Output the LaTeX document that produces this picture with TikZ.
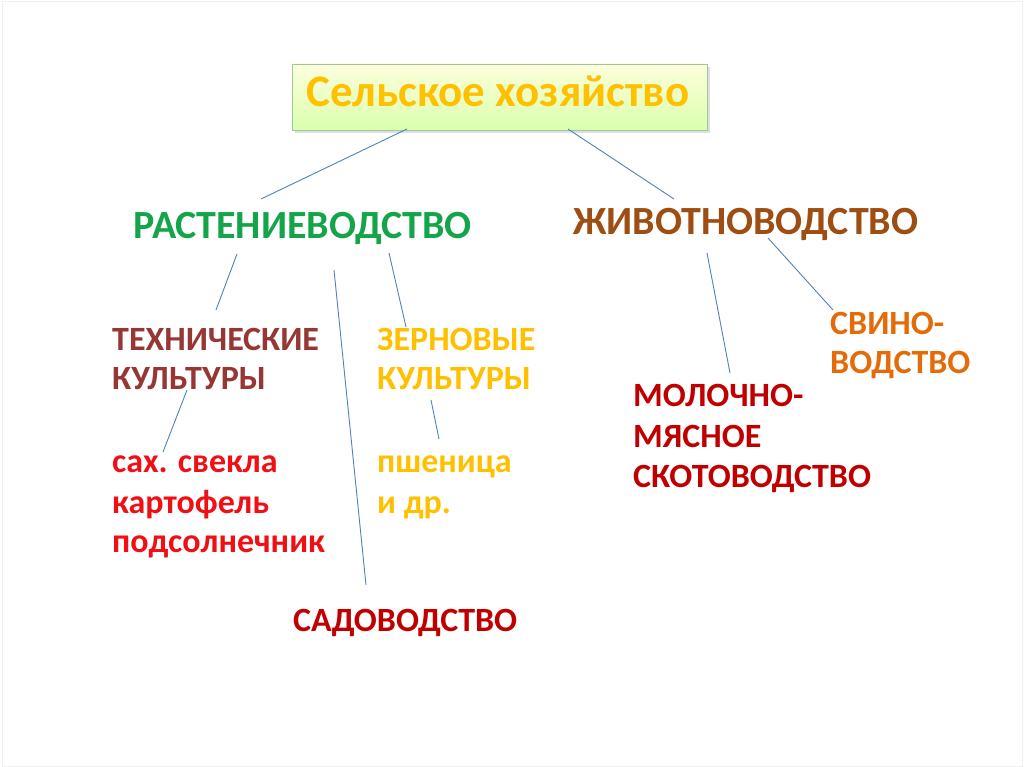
\documentclass[tikz,border=0pt]{standalone}
\usepackage{fontspec}
\setmainfont{Carlito}
\usepackage{tikz}
\usetikzlibrary{shadows}
\definecolor{plantgreen}{RGB}{20,165,75}
\definecolor{animalbrown}{RGB}{158,78,18}
\definecolor{techbrown}{RGB}{150,55,53}
\definecolor{grain}{RGB}{255,192,0}
\definecolor{cropred}{RGB}{240,15,20}
\definecolor{darkred}{RGB}{192,0,0}
\definecolor{pigorange}{RGB}{227,108,9}
\definecolor{linkblue}{RGB}{79,129,189}
\newcommand{\headfont}{\fontsize{40}{42}\selectfont\bfseries}
\newcommand{\lblfont}{\fontsize{34}{36}\selectfont\bfseries}

\begin{document}
\begin{tikzpicture}[x=1pt, y=-1pt,
    head/.style={anchor=base west, inner sep=0pt, font=\headfont},
    lbl/.style={anchor=base west, inner sep=0pt, font=\lblfont},
    link/.style={linkblue, line width=0.9pt}]
    \useasboundingbox (0,0) rectangle (1024,767);
    \draw[gray!12] (2,1) rectangle (1022,766);

    % TOP: title box
    \node[draw=green!25!gray!60, top color=green!8!yellow!14, bottom color=green!45!yellow!32,
          drop shadow={opacity=0.25, shadow xshift=2pt, shadow yshift=-3pt},
          minimum width=415pt, minimum height=66pt, inner sep=0pt] (title) at (500,97) {};
    \node[anchor=base, inner sep=0pt, text=grain, font=\fontsize{45}{47}\selectfont\bfseries]
          (titletext) at (498,107) {Сельское хозяйство};

    % LEFT: crop growing
    \node[head, plantgreen] (plant) at (133,238) {РАСТЕНИЕВОДСТВО};
    \node[lbl, techbrown] (tech1) at (112,350) {ТЕХНИЧЕСКИЕ};
    \node[lbl, techbrown] (tech2) at (112,389) {КУЛЬТУРЫ};
    \node[lbl, cropred] (crop1) at (112,472) {сах. свекла};
    \node[lbl, cropred] (crop2) at (112,513) {картофель};
    \node[lbl, cropred] (crop3) at (112,552) {подсолнечник};
    \node[lbl, grain] (grain1) at (377,350) {ЗЕРНОВЫЕ};
    \node[lbl, grain] (grain2) at (377,389) {КУЛЬТУРЫ};
    \node[lbl, grain] (wheat1) at (377,472) {пшеница};
    \node[lbl, grain] (wheat2) at (377,513) {и др.};
    \node[lbl, darkred] (garden) at (293,631) {САДОВОДСТВО};

    % RIGHT: animal farming
    \node[head, animalbrown] (animal) at (573,235) {ЖИВОТНОВОДСТВО};
    \node[lbl, pigorange] (pig1) at (830,334) {СВИНО-};
    \node[lbl, pigorange] (pig2) at (830,373) {ВОДСТВО};
    \node[lbl, darkred] (cattle1) at (633,406) {МОЛОЧНО-};
    \node[lbl, darkred] (cattle2) at (633,447) {МЯСНОЕ};
    \node[lbl, darkred] (cattle3) at (633,487) {СКОТОВОДСТВО};

    % Connector ends
    \coordinate (title-l) at (407,129);
    \coordinate (title-r) at (568,129);
    \coordinate (plant-t) at (261,199);
    \coordinate (animal-t) at (674,199);
    \coordinate (plant-l) at (237,254);
    \coordinate (plant-m) at (334,270);
    \coordinate (plant-r) at (389,253);
    \coordinate (tech-t) at (216,310);
    \coordinate (garden-t) at (366,585);
    \coordinate (grain-t) at (406,327);
    \coordinate (tech-b) at (187,390);
    \coordinate (crop-t) at (163,452);
    \coordinate (grain-b) at (431,400);
    \coordinate (wheat-t) at (439,439);
    \coordinate (animal-l) at (707,253);
    \coordinate (cattle-t) at (730,373);
    \coordinate (animal-r) at (768,238);
    \coordinate (pig-t) at (833,310);

    % Connectors
    \draw[link] (title-l) -- (plant-t);
    \draw[link] (title-r) -- (animal-t);
    \draw[link] (plant-l) -- (tech-t);
    \draw[link] (plant-m) -- (garden-t);
    \draw[link] (plant-r) -- (grain-t);
    \draw[link] (tech-b) -- (crop-t);
    \draw[link] (grain-b) -- (wheat-t);
    \draw[link] (animal-l) -- (cattle-t);
    \draw[link] (animal-r) -- (pig-t);
\end{tikzpicture}
\end{document}
